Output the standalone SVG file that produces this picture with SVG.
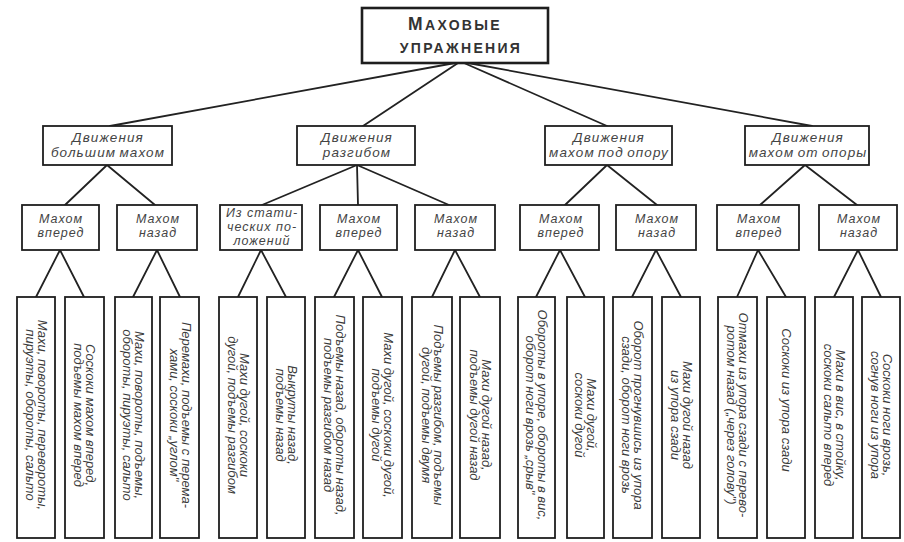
<svg xmlns="http://www.w3.org/2000/svg" width="904" height="542" viewBox="0 0 904 542">
<style>
  .bg{fill:#ffffff}
  .box{fill:#ffffff;stroke:#1e1e1e;stroke-width:1.8}
  .root{fill:#ffffff;stroke:#1e1e1e;stroke-width:2.6}
  .con line{stroke:#222;stroke-width:1.8;stroke-linecap:round}
  .rt{font-family:"Liberation Sans",Arial,sans-serif;font-weight:bold;fill:#333;text-anchor:middle;letter-spacing:2.3px}
  .t2{font-family:"Liberation Sans",Arial,sans-serif;font-style:italic;font-size:13.5px;letter-spacing:1.1px;word-spacing:-1.5px;fill:#444;text-anchor:middle}
  .t3{font-family:"Liberation Sans",Arial,sans-serif;font-style:italic;font-size:12.5px;letter-spacing:1px;fill:#444;text-anchor:middle}
  .lf{font-family:"Liberation Sans",Arial,sans-serif;font-style:italic;font-size:13px;fill:#3a3a3a;text-anchor:middle}
</style>
<rect class="bg" x="0" y="0" width="904" height="542"/>

<g id="connectors" class="con">
  <line x1="455" y1="63" x2="110" y2="126"/>
  <line x1="458" y1="63" x2="363" y2="126"/>
  <line x1="464" y1="63" x2="607" y2="126"/>
  <line x1="468" y1="63" x2="812" y2="126"/>

  <line x1="107" y1="165" x2="65" y2="205"/>
  <line x1="107" y1="165" x2="155" y2="205"/>
  <line x1="357" y1="165" x2="262" y2="205"/>
  <line x1="357" y1="165" x2="358" y2="205"/>
  <line x1="357" y1="165" x2="449" y2="205"/>
  <line x1="607" y1="165" x2="565" y2="205"/>
  <line x1="607" y1="165" x2="657" y2="205"/>
  <line x1="805" y1="165" x2="760" y2="205"/>
  <line x1="805" y1="165" x2="857" y2="205"/>

  <line x1="60" y1="250" x2="36" y2="297"/>
  <line x1="60" y1="250" x2="84" y2="297"/>
  <line x1="157" y1="250" x2="133" y2="297"/>
  <line x1="157" y1="250" x2="180" y2="297"/>
  <line x1="261" y1="250" x2="238" y2="297"/>
  <line x1="261" y1="250" x2="286" y2="297"/>
  <line x1="358" y1="250" x2="334" y2="297"/>
  <line x1="358" y1="250" x2="382" y2="297"/>
  <line x1="455" y1="250" x2="432" y2="297"/>
  <line x1="455" y1="250" x2="480" y2="297"/>
  <line x1="560" y1="250" x2="536" y2="297"/>
  <line x1="560" y1="250" x2="585" y2="297"/>
  <line x1="656" y1="250" x2="632" y2="297"/>
  <line x1="656" y1="250" x2="681" y2="297"/>
  <line x1="758" y1="250" x2="737" y2="297"/>
  <line x1="758" y1="250" x2="786" y2="297"/>
  <line x1="858" y1="250" x2="834" y2="297"/>
  <line x1="858" y1="250" x2="881" y2="297"/>
</g>

<g id="root">
  <rect class="root" x="362" y="8" width="186" height="55"/>
  <text class="rt" x="455" y="30"><tspan font-size="17.5">М</tspan><tspan font-size="14">АХОВЫЕ</tspan></text>
  <text class="rt" x="461" y="53" font-size="14">УПРАЖНЕНИЯ</text>
</g>

<g id="n-bolshim">
  <rect class="box" x="43" y="126" width="129" height="39"/>
  <text class="t2" x="108" y="142">Движения</text>
  <text class="t2" x="108" y="157">большим махом</text>
</g>
<g id="n-razgibom">
  <rect class="box" x="297" y="126" width="118" height="39"/>
  <text class="t2" x="357" y="142">Движения</text>
  <text class="t2" x="357" y="157">разгибом</text>
</g>
<g id="n-pod-oporu">
  <rect class="box" x="545" y="126" width="127" height="39"/>
  <text class="t2" x="609" y="142">Движения</text>
  <text class="t2" x="609" y="157">махом под опору</text>
</g>
<g id="n-ot-opory">
  <rect class="box" x="745" y="126" width="124" height="39"/>
  <text class="t2" x="808" y="142">Движения</text>
  <text class="t2" x="808" y="157">махом от опоры</text>
</g>

<g id="n-a">
  <rect class="box" x="22" y="205" width="77" height="45"/>
  <text class="t3" x="61" y="223">Махом</text>
  <text class="t3" x="61" y="237">вперед</text>
</g>
<g id="n-b">
  <rect class="box" x="117" y="205" width="80" height="45"/>
  <text class="t3" x="158" y="223">Махом</text>
  <text class="t3" x="158" y="237">назад</text>
</g>
<g id="n-c">
  <rect class="box" x="220" y="205" width="82" height="45"/>
  <text class="t3" x="262" y="217" letter-spacing="1.6">Из стати-</text>
  <text class="t3" x="262" y="231" letter-spacing="1.6">ческих по-</text>
  <text class="t3" x="262" y="245" letter-spacing="1.6">ложений</text>
</g>
<g id="n-d">
  <rect class="box" x="320" y="205" width="77" height="45"/>
  <text class="t3" x="359" y="223">Махом</text>
  <text class="t3" x="359" y="237">вперед</text>
</g>
<g id="n-e">
  <rect class="box" x="415" y="205" width="80" height="45"/>
  <text class="t3" x="456" y="223">Махом</text>
  <text class="t3" x="456" y="237">назад</text>
</g>
<g id="n-f">
  <rect class="box" x="520" y="205" width="79" height="45"/>
  <text class="t3" x="561" y="223">Махом</text>
  <text class="t3" x="561" y="237">вперед</text>
</g>
<g id="n-g">
  <rect class="box" x="616" y="205" width="80" height="45"/>
  <text class="t3" x="657" y="223">Махом</text>
  <text class="t3" x="657" y="237">назад</text>
</g>
<g id="n-h">
  <rect class="box" x="717" y="205" width="82" height="45"/>
  <text class="t3" x="759" y="223">Махом</text>
  <text class="t3" x="759" y="237">вперед</text>
</g>
<g id="n-i">
  <rect class="box" x="819" y="205" width="78" height="45"/>
  <text class="t3" x="859" y="223">Махом</text>
  <text class="t3" x="859" y="237">назад</text>
</g>

<g id="leaf1">
  <rect class="box" x="17" y="297" width="38" height="241"/>
  <text class="lf" transform="translate(36,415) rotate(90)"><tspan x="0" y="-1.5">Махи, повороты, перевороты,</tspan><tspan x="0" y="10.5">пируэты, обороты, сальто</tspan></text>
</g>
<g id="leaf2">
  <rect class="box" x="65" y="297" width="39" height="241"/>
  <text class="lf" transform="translate(84,415) rotate(90)"><tspan x="0" y="-1.5">Соскоки махом вперед,</tspan><tspan x="0" y="10.5">подъемы махом вперед</tspan></text>
</g>
<g id="leaf3">
  <rect class="box" x="115" y="297" width="37" height="241"/>
  <text class="lf" transform="translate(133,415) rotate(90)"><tspan x="0" y="-1.5">Махи, повороты, подъемы,</tspan><tspan x="0" y="10.5">обороты, пируэты, сальто</tspan></text>
</g>
<g id="leaf4">
  <rect class="box" x="160" y="297" width="39" height="241"/>
  <text class="lf" transform="translate(180,415) rotate(90)"><tspan x="0" y="-1.5">Перемахи, подъемы с перема-</tspan><tspan x="0" y="10.5">хами, соскоки „углом"</tspan></text>
</g>
<g id="leaf5">
  <rect class="box" x="219" y="297" width="38" height="241"/>
  <text class="lf" transform="translate(238,415) rotate(90)"><tspan x="0" y="-1.5">Махи дугой, соскоки</tspan><tspan x="0" y="10.5">дугой, подъемы разгибом</tspan></text>
</g>
<g id="leaf6">
  <rect class="box" x="267" y="297" width="38" height="241"/>
  <text class="lf" transform="translate(286,415) rotate(90)"><tspan x="0" y="-1.5">Выкруты назад,</tspan><tspan x="0" y="10.5">подъемы назад</tspan></text>
</g>
<g id="leaf7">
  <rect class="box" x="315" y="297" width="39" height="241"/>
  <text class="lf" transform="translate(334,415) rotate(90)"><tspan x="0" y="-1.5">Подъемы назад, обороты назад,</tspan><tspan x="0" y="10.5">подъемы разгибом назад</tspan></text>
</g>
<g id="leaf8">
  <rect class="box" x="363" y="297" width="39" height="241"/>
  <text class="lf" transform="translate(382,415) rotate(90)"><tspan x="0" y="-1.5">Махи дугой, соскоки дугой,</tspan><tspan x="0" y="10.5">подъемы дугой</tspan></text>
</g>
<g id="leaf9">
  <rect class="box" x="412" y="297" width="40" height="241"/>
  <text class="lf" transform="translate(432,415) rotate(90)"><tspan x="0" y="-1.5">Подъемы разгибом, подъемы</tspan><tspan x="0" y="10.5">дугой, подъемы двумя</tspan></text>
</g>
<g id="leaf10">
  <rect class="box" x="460" y="297" width="40" height="241"/>
  <text class="lf" transform="translate(480,415) rotate(90)"><tspan x="0" y="-1.5">Махи дугой назад,</tspan><tspan x="0" y="10.5">подъемы дугой назад</tspan></text>
</g>
<g id="leaf11">
  <rect class="box" x="518" y="297" width="37" height="241"/>
  <text class="lf" transform="translate(536,415) rotate(90)"><tspan x="0" y="-1.5">Обороты в упоре, обороты в вис,</tspan><tspan x="0" y="10.5">оборот ноги врозь „срыв"</tspan></text>
</g>
<g id="leaf12">
  <rect class="box" x="567" y="297" width="37" height="241"/>
  <text class="lf" transform="translate(585,415) rotate(90)"><tspan x="0" y="-1.5">Махи дугой,</tspan><tspan x="0" y="10.5">соскоки дугой</tspan></text>
</g>
<g id="leaf13">
  <rect class="box" x="613" y="297" width="39" height="241"/>
  <text class="lf" transform="translate(632,415) rotate(90)"><tspan x="0" y="-1.5">Оборот прогнувшись из упора</tspan><tspan x="0" y="10.5">сзади, оборот ноги врозь</tspan></text>
</g>
<g id="leaf14">
  <rect class="box" x="662" y="297" width="38" height="241"/>
  <text class="lf" transform="translate(681,415) rotate(90)"><tspan x="0" y="-1.5">Махи дугой назад</tspan><tspan x="0" y="10.5">из упора сзади</tspan></text>
</g>
<g id="leaf15">
  <rect class="box" x="718" y="297" width="39" height="241"/>
  <text class="lf" transform="translate(737,415) rotate(90)"><tspan x="0" y="-1.5">Отмахи из упора сзади с перево-</tspan><tspan x="0" y="10.5">ротом назад („через голову")</tspan></text>
</g>
<g id="leaf16">
  <rect class="box" x="767" y="297" width="38" height="241"/>
  <text class="lf" transform="translate(786,400) rotate(90)"><tspan x="0" y="4.5">Соскоки из упора сзади</tspan></text>
</g>
<g id="leaf17">
  <rect class="box" x="815" y="297" width="38" height="241"/>
  <text class="lf" transform="translate(834,415) rotate(90)"><tspan x="0" y="-1.5">Махи в вис, в стойку,</tspan><tspan x="0" y="10.5">соскоки сальто вперед</tspan></text>
</g>
<g id="leaf18">
  <rect class="box" x="862" y="297" width="38" height="241"/>
  <text class="lf" transform="translate(881,415) rotate(90)"><tspan x="0" y="-1.5">Соскоки ноги врозь,</tspan><tspan x="0" y="10.5">согнув ноги из упора</tspan></text>
</g>
</svg>
